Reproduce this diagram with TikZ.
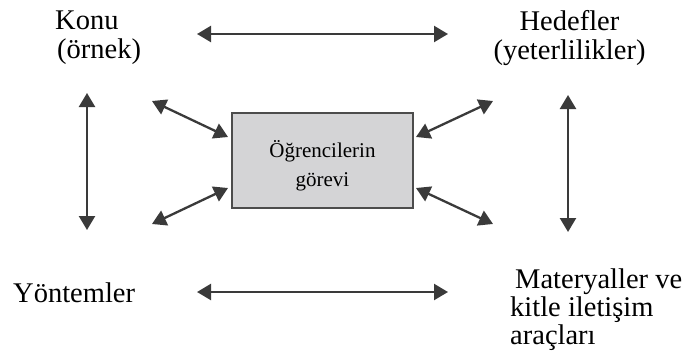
\documentclass[tikz,border=0pt]{standalone}
\usepackage{fontspec}
\setmainfont{Liberation Serif}
\usetikzlibrary{arrows.meta}
\definecolor{arrowgray}{RGB}{58,58,58}
\definecolor{boxgray}{RGB}{212,212,214}

\begin{document}
\begin{tikzpicture}[%
      x=1pt, y=-1pt,
      link/.style={color=arrowgray, line width=2.3pt, {Triangle[length=14pt,width=16pt]}-{Triangle[length=14pt,width=16pt]}},
      label/.style={inner sep=0pt, font=\fontsize{28.5}{29}\selectfont},
      task/.style={draw=black!70, fill=boxgray, line width=1.2pt, minimum width=181pt, minimum height=95pt},
      tasktext/.style={inner sep=0pt, align=center, font=\fontsize{21}{29}\selectfont},
      ]
      \useasboundingbox (0,0) rectangle (688,351);

      \node [task] (task) at (322.5,160.5) {};
      \node [tasktext] (tasklabel) at ([yshift=-5.5pt]task.center) {Öğrencilerin\\görevi};

      \node [label, anchor=north west, align=left] (konu) at (55,11) {Konu\\\hspace{2pt}(örnek)};
      \node [label, anchor=north, align=center] (hedef) at (569.5,10.5) {Hedefler\\(yeterlilikler)};
      \node [label, anchor=base west] (yontem) at (13,302) {Yöntemler};
      \node [label, anchor=north west, align=left, font=\fontsize{28.5}{28}\selectfont] (materyal) at (510,269) {\hspace{5pt}Materyaller ve\\kitle iletişim\\araçları};

      \coordinate (top-l) at (197,34);
      \coordinate (top-r) at (448,34);
      \coordinate (bot-l) at (197,292);
      \coordinate (bot-r) at (448,292);
      \coordinate (left-t) at (87,93);
      \coordinate (left-b) at (87,230);
      \coordinate (right-t) at (568,95);
      \coordinate (right-b) at (568,232);

      \coordinate (tl-out) at (152,101);
      \coordinate (tl-in) at (228,137);
      \coordinate (bl-out) at (152,224);
      \coordinate (bl-in) at (228,188);
      \coordinate (tr-out) at (493,101);
      \coordinate (tr-in) at (416,137);
      \coordinate (br-out) at (493,224);
      \coordinate (br-in) at (416,188);

      \draw [link] (top-l) -- (top-r);
      \draw [link] (bot-l) -- (bot-r);
      \draw [link] (left-t) -- (left-b);
      \draw [link] (right-t) -- (right-b);

      \draw [link] (tl-out) -- (tl-in);
      \draw [link] (bl-out) -- (bl-in);
      \draw [link] (tr-in) -- (tr-out);
      \draw [link] (br-in) -- (br-out);
      \end{tikzpicture}
\end{document}
